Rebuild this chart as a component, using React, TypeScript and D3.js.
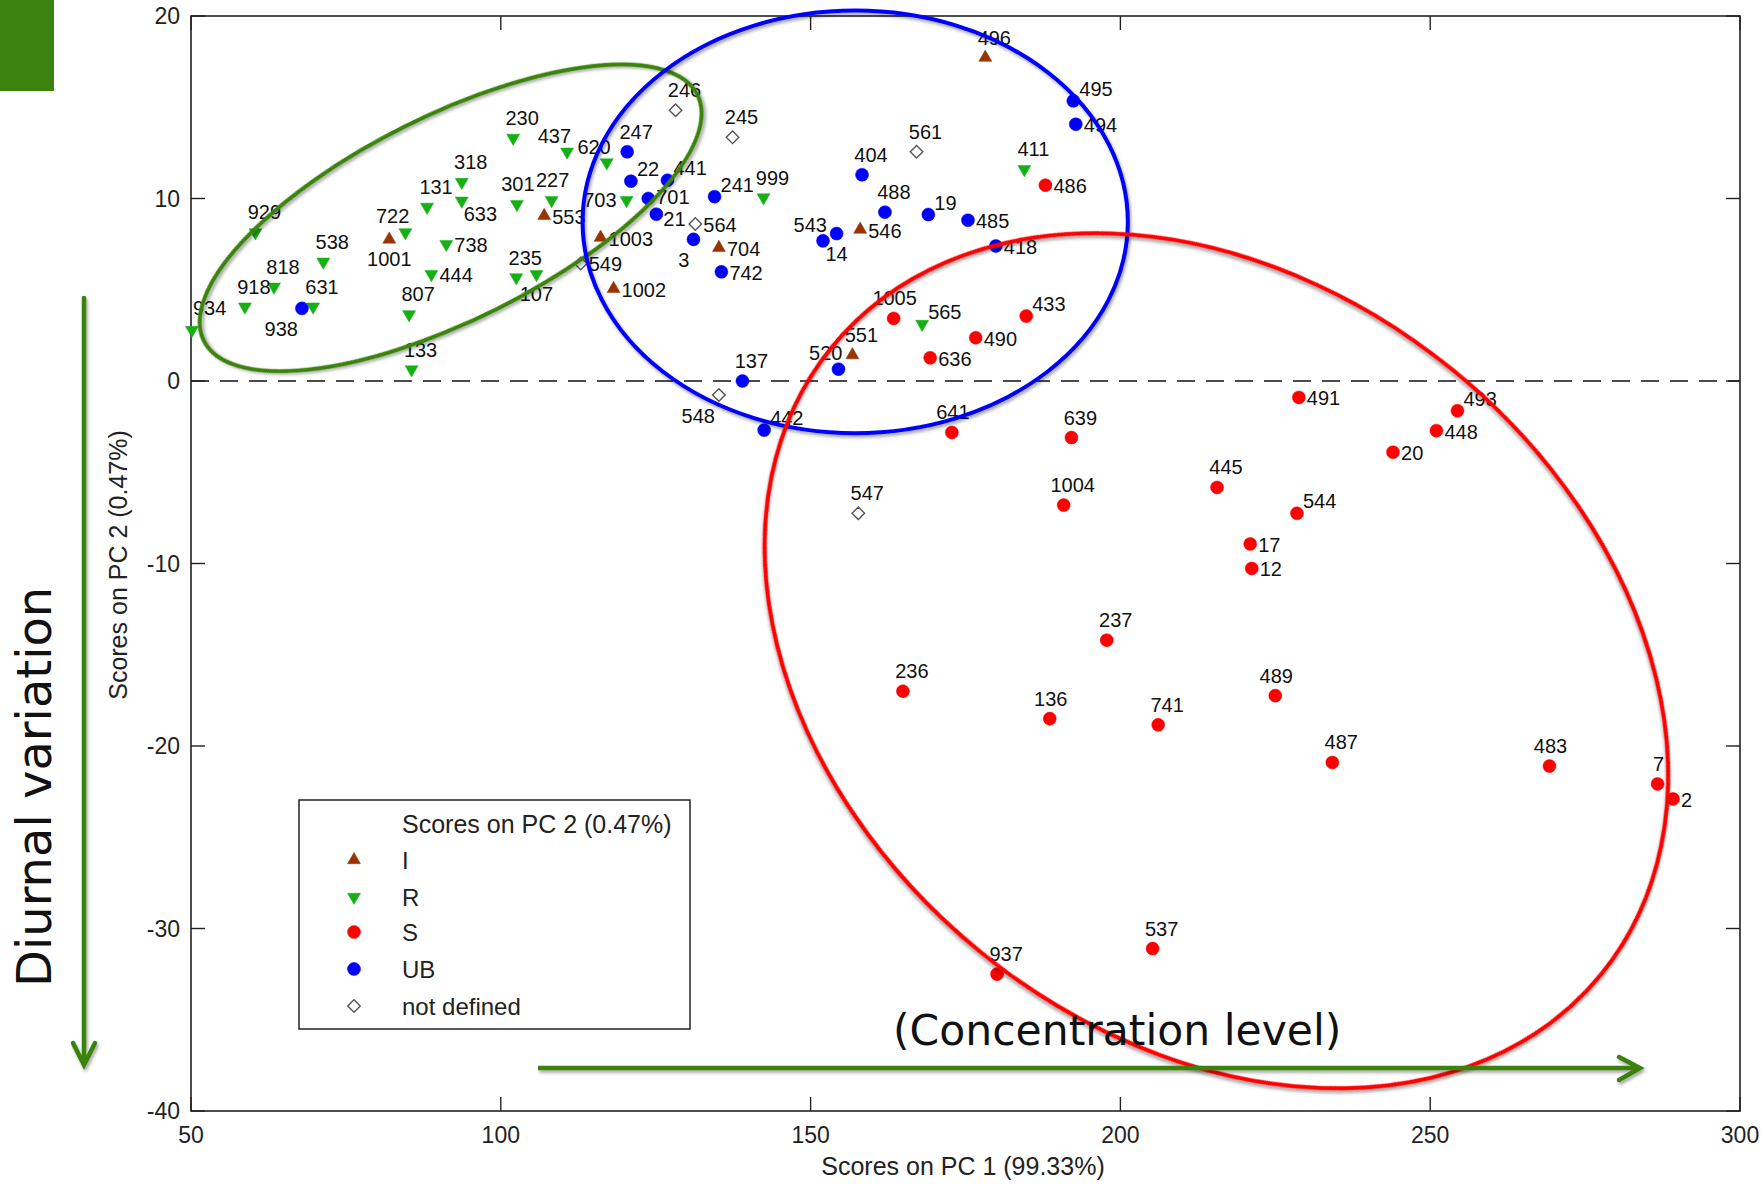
import * as d3 from "d3";

// PCA scores: PC1 / PC2 per sample, grouped by class
const iLabels = ["1001", "553", "1003", "1002", "704", "546", "496", "551"];
const iPc1 = [82.0, 107.0, 116.1, 118.2, 135.2, 158.0, 178.2, 156.75];
const iPc2 = [7.76, 9.05, 7.86, 5.05, 7.3, 8.3, 17.72, 1.42];

const rLabels = ["934", "929", "918", "818", "538", "631", "722", "131", "318", "633", "738", "444", "807", "133", "230", "437", "620", "301", "227", "235", "107", "703", "999", "411", "565"];
const rPc1 = [50.15, 60.4, 58.7, 63.4, 71.35, 69.7, 84.6, 88.1, 93.7, 93.7, 91.2, 88.8, 85.2, 85.6, 102.0, 110.7, 117.1, 102.6, 108.2, 102.5, 105.75, 120.3, 142.4, 184.5, 168.0];
const rPc2 = [2.79, 8.14, 4.07, 5.16, 6.53, 4.07, 8.14, 9.54, 10.9, 9.87, 7.5, 5.85, 3.65, 0.63, 13.32, 12.56, 11.97, 9.69, 9.91, 5.67, 5.85, 9.9, 10.05, 11.6, 3.12];

const sLabels = ["486", "1005", "433", "490", "636", "641", "639", "491", "493", "448", "20", "445", "544", "1004", "17", "12", "237", "236", "136", "741", "489", "487", "483", "7", "2", "937", "537"];
const sPc1 = [187.9, 163.4, 184.8, 176.65, 169.3, 172.8, 192.1, 228.8, 254.4, 251.0, 244.0, 215.6, 228.5, 190.85, 220.95, 221.2, 197.8, 164.9, 188.6, 206.1, 225.0, 234.2, 269.25, 286.7, 289.2, 180.1, 205.2];
const sPc2 = [10.73, 3.43, 3.56, 2.37, 1.27, -2.82, -3.1, -0.9, -1.63, -2.72, -3.9, -5.83, -7.25, -6.8, -8.93, -10.27, -14.2, -17.0, -18.5, -18.84, -17.24, -20.9, -21.1, -22.08, -22.9, -32.5, -31.1];

const ubLabels = ["938", "247", "22", "441", "701", "21", "241", "3", "742", "543", "14", "404", "488", "19", "485", "418", "495", "494", "137", "520", "442"];
const ubPc1 = [67.9, 120.4, 121.0, 126.9, 123.8, 125.1, 134.5, 131.1, 135.6, 152.0, 154.2, 158.3, 162.0, 169.0, 175.4, 179.9, 192.4, 192.8, 139.0, 154.5, 142.5];
const ubPc2 = [3.98, 12.56, 10.95, 11.0, 10.0, 9.14, 10.1, 7.76, 5.98, 7.68, 8.08, 11.3, 9.25, 9.12, 8.81, 7.4, 15.35, 14.07, 0.0, 0.65, -2.69];

const ndLabels = ["246", "245", "561", "564", "549", "548", "547"];
const ndPc1 = [128.2, 137.4, 167.1, 131.4, 112.9, 135.2, 157.7];
const ndPc2 = [14.84, 13.35, 12.56, 8.6, 6.44, -0.77, -7.25];

const classNames = ["I", "R", "S", "UB", "not defined"];
const xTicks = [50, 100, 150, 200, 250, 300];
const yTicks = [20, 10, 0, -10, -20, -30, -40];

// where each label sits relative to its marker (default "n")
const labelPlace: Record<string, string> = {
  "934": "nr", "938": "sw", "722": "nw", "1001": "s", "633": "se", "738": "e", "444": "e",
  "437": "nw", "620": "nw", "553": "e", "107": "s", "703": "w", "1003": "e",
  "549": "e", "1002": "e", "22": "ne", "441": "ne", "701": "eu", "21": "ed",
  "241": "ne", "564": "e", "3": "sw", "704": "e", "742": "e", "543": "nw",
  "14": "s", "546": "e", "19": "ne", "485": "e", "418": "e", "495": "ne",
  "494": "e", "486": "e", "565": "ne", "433": "ne", "490": "e", "636": "e",
  "520": "nw", "548": "sw", "442": "ne", "491": "e", "493": "ne", "448": "e",
  "20": "e", "544": "ne", "17": "e", "12": "e", "2": "e", "7": "n0", "1005": "n0",
  "641": "n0", "489": "n0", "136": "n0", "483": "n0", "227": "n0", "301": "n0",
};
const placeOffsets: Record<string, [number, number, string]> = {
  n: [9, -20, "middle"],
  n0: [1, -20, "middle"],
  nr: [1, -22, "start"],
  ne: [6, -12, "start"],
  e: [8, 1, "start"],
  eu: [8, -2, "start"],
  ed: [7, 5, "start"],
  nw: [4, -16, "end"],
  w: [-10, 0, "end"],
  s: [0, 20, "middle"],
  sw: [-4, 21, "end"],
  se: [2, 13, "start"],
};

const W = 1764;
const H = 1184;
const plot = { left: 191, right: 1740, top: 16, bottom: 1111 };

const x = d3.scaleLinear().domain([50, 300]).range([plot.left, plot.right]);
const y = d3.scaleLinear().domain([-40, 20]).range([plot.bottom, plot.top]);
const xUnit = x(1) - x(0);

const GREEN = "#3B820E";

const styles = [
  { name: "I", color: "#993300", shape: d3.symbolTriangle, size: 73, rotate: 0, fill: true },
  { name: "R", color: "#14B014", shape: d3.symbolTriangle, size: 73, rotate: 180, fill: true },
  { name: "S", color: "#FF0000", shape: d3.symbolCircle, size: 133, rotate: 0, fill: true },
  { name: "UB", color: "#0000FF", shape: d3.symbolCircle, size: 133, rotate: 0, fill: true },
  { name: "not defined", color: "#555555", shape: d3.symbolDiamond2, size: 100, rotate: 0, fill: false },
];

const groups = [
  { labels: iLabels, pc1: iPc1, pc2: iPc2 },
  { labels: rLabels, pc1: rPc1, pc2: rPc2 },
  { labels: sLabels, pc1: sPc1, pc2: sPc2 },
  { labels: ubLabels, pc1: ubPc1, pc2: ubPc2 },
  { labels: ndLabels, pc1: ndPc1, pc2: ndPc2 },
];

// hand-drawn cluster ellipses (centre in data units, radii in PC1 units, angle in degrees)
const ellipses = [
  { color: GREEN, cx: 91.9, cy: 8.94, rx: 44.5, ry: 16.5, angle: -26.5 },
  { color: "#0000FF", cx: 157.2, cy: 8.72, rx: 44.0, ry: 34.1, angle: 0 },
  { color: "#FF0000", cx: 215.5, cy: -15.33, rx: 80.1, ry: 60.5, angle: 39.2 },
];

const tickFont = "'Liberation Sans', Arial, sans-serif";
const bigFont = "'DejaVu Sans', Verdana, sans-serif";

function Marker({ s, cx, cy }: { s: (typeof styles)[number]; cx: number; cy: number }) {
  const d = d3.symbol().type(s.shape).size(s.size)() || "";
  return (
    <path
      d={d}
      transform={`translate(${cx},${cy}) rotate(${s.rotate})`}
      fill={s.fill ? s.color : "white"}
      stroke={s.color}
      strokeWidth={s.fill ? 0.5 : 1.4}
    />
  );
}

export default function App() {
  const legend = { x: 299, y: 800, w: 391, h: 229 };
  const legendRows = [860, 897, 932, 969, 1006];

  return (
    <svg
      width={W}
      height={H}
      style={{ position: "absolute", left: 0, top: 0, background: "white" }}
    >
      <defs>
        <filter id="shadow" x="-10%" y="-10%" width="120%" height="120%">
          <feDropShadow dx="1.5" dy="2.5" stdDeviation="1.8" floodColor="#000" floodOpacity="0.35" />
        </filter>
      </defs>
      <rect x={0} y={0} width={W} height={H} fill="white" />

      {/* zero line */}
      <line
        x1={plot.left}
        x2={plot.right}
        y1={y(0)}
        y2={y(0)}
        stroke="#111"
        strokeWidth={1.6}
        strokeDasharray="18 11"
      />

      {/* axes box + ticks */}
      <rect
        x={plot.left}
        y={plot.top}
        width={plot.right - plot.left}
        height={plot.bottom - plot.top}
        fill="none"
        stroke="#222"
        strokeWidth={1.6}
      />
      {xTicks.map((t) => (
        <g key={"xt" + t}>
          <line x1={x(t)} x2={x(t)} y1={plot.bottom} y2={plot.bottom - 14} stroke="#222" strokeWidth={1.4} />
          <line x1={x(t)} x2={x(t)} y1={plot.top} y2={plot.top + 14} stroke="#222" strokeWidth={1.4} />
          <text x={x(t)} y={1143} textAnchor="middle" fontFamily={tickFont} fontSize={23} fill="#222">
            {t}
          </text>
        </g>
      ))}
      {yTicks.map((t) => (
        <g key={"yt" + t}>
          <line x1={plot.left} x2={plot.left + 14} y1={y(t)} y2={y(t)} stroke="#222" strokeWidth={1.4} />
          <line x1={plot.right} x2={plot.right - 14} y1={y(t)} y2={y(t)} stroke="#222" strokeWidth={1.4} />
          <text x={180} y={y(t) + 8} textAnchor="end" fontFamily={tickFont} fontSize={23} fill="#222">
            {t}
          </text>
        </g>
      ))}
      <text x={963} y={1175} textAnchor="middle" fontFamily={tickFont} fontSize={25} fill="#222">
        Scores on PC 1 (99.33%)
      </text>
      <text
        transform={`translate(127,565) rotate(-90)`}
        textAnchor="middle"
        fontFamily={tickFont}
        fontSize={25}
        fill="#222"
      >
        Scores on PC 2 (0.47%)
      </text>

      {/* points */}
      {groups.map((g, gi) =>
        g.labels.map((lab, i) => (
          <Marker key={gi + "-" + lab} s={styles[gi]} cx={x(g.pc1[i])} cy={y(g.pc2[i])} />
        ))
      )}
      {groups.map((g, gi) =>
        g.labels.map((lab, i) => {
          const [dx, dy, anchor] = placeOffsets[labelPlace[lab] || "n"];
          return (
            <text
              key={"l" + gi + "-" + lab}
              x={x(g.pc1[i]) + dx}
              y={y(g.pc2[i]) + dy + 7}
              textAnchor={anchor}
              fontFamily={tickFont}
              fontSize={20}
              fill="#111"
            >
              {lab}
            </text>
          );
        })
      )}

      {/* cluster ellipses */}
      {ellipses.map((e, i) => (
        <ellipse
          key={"e" + i}
          cx={0}
          cy={0}
          rx={e.rx * xUnit}
          ry={e.ry * xUnit}
          transform={`translate(${x(e.cx)},${y(e.cy)}) rotate(${e.angle})`}
          fill="none"
          stroke={e.color}
          strokeWidth={4}
          filter="url(#shadow)"
        />
      ))}

      {/* legend */}
      <rect x={legend.x} y={legend.y} width={legend.w} height={legend.h} fill="white" stroke="#222" strokeWidth={1.5} />
      <text x={402} y={833} fontFamily={tickFont} fontSize={25} fill="#222">
        Scores on PC 2 (0.47%)
      </text>
      {classNames.map((c, i) => (
        <g key={"lg" + c}>
          <Marker s={styles[i]} cx={354} cy={legendRows[i]} />
          <text x={402} y={legendRows[i] + 9} fontFamily={tickFont} fontSize={24} fill="#222">
            {c}
          </text>
        </g>
      ))}

      {/* slide annotations */}
      <rect x={0} y={0} width={54} height={91} fill={GREEN} />
      <g filter="url(#shadow)" stroke={GREEN} strokeWidth={4.5} fill="none" strokeLinecap="round">
        <line x1={84} y1={298} x2={84} y2={1064} />
        <polyline points="73,1043 84,1065 95,1043" strokeLinejoin="miter" />
        <line x1={538} y1={1068} x2={1639} y2={1068} strokeLinecap="butt" />
        <polyline points="1619,1057 1640,1068 1619,1080" strokeLinejoin="miter" />
      </g>
      <text
        transform="translate(50.5,987) rotate(-90)"
        fontFamily={bigFont}
        fontSize={48}
        fill="#111"
      >
        Diurnal variation
      </text>
      <text x={893} y={1045} fontFamily={bigFont} fontSize={42.5} fill="#111">
        (Concentration level)
      </text>
    </svg>
  );
}
